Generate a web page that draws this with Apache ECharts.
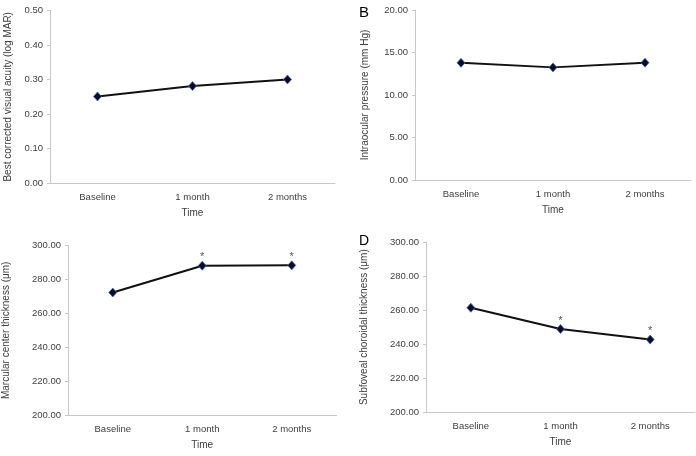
<!DOCTYPE html>
<html>
<head>
<meta charset="utf-8">
<script src="https://cdn.jsdelivr.net/npm/echarts@6/dist/echarts.min.js"></script>
<style>html,body{margin:0;padding:0;background:#fff}#c{width:696px;height:456px}</style>
</head>
<body>
<div id="c"></div>
<script>
var categories = ['Baseline', '1 month', '2 months'];
var xName = 'Time';
var bcvaValues = [0.251, 0.281, 0.300];
var iopValues = [13.78, 13.25, 13.80];
var mctValues = [272.2, 288.0, 288.2];
var sfctValues = [261.4, 248.9, 242.7];
var mctSignificant = [false, true, true];
var sfctSignificant = [false, true, true];
var yNames = ['Best corrected visual acuity (log MAR)', 'Intraocular pressure (mm Hg)', 'Marcular center thickness (\u03bcm)', 'Subfoveal choroidal thickness (\u03bcm)'];
var yMin = [0, 0, 200, 200];
var yMax = [0.5, 20, 300, 300];
var yInterval = [0.1, 5, 20, 20];
var panelLetters = ['', 'B', '', 'D'];

var FONT = '"Liberation Sans", Arial, sans-serif';
var grids = [
  {left: 50, top: 10.3, width: 285, height: 173, nameGapY: 37},
  {left: 415, top: 10, width: 276, height: 170, nameGapY: 45},
  {left: 68, top: 245.3, width: 268.5, height: 170, nameGapY: 57},
  {left: 426, top: 242, width: 269, height: 170.3, nameGapY: 57}
];
var seriesData = [bcvaValues, iopValues, mctValues, sfctValues];
var sigs = [null, null, mctSignificant, sfctSignificant];

var option = {
  animation: false,
  backgroundColor: '#fff',
  title: [
    {text: panelLetters[1], left: 354, top: 0, textStyle: {fontFamily: FONT, fontSize: 15, fontWeight: 'normal', color: '#000'}},
    {text: panelLetters[3], left: 354, top: 229, textStyle: {fontFamily: FONT, fontSize: 14, fontWeight: 'normal', color: '#000'}}
  ],
  grid: grids.map(function (g) { return {left: g.left, top: g.top, width: g.width, height: g.height}; }),
  xAxis: grids.map(function (g, i) {
    return {
      type: 'category', gridIndex: i, data: categories, boundaryGap: true,
      name: xName, nameLocation: 'middle', nameGap: 25,
      nameTextStyle: {fontFamily: FONT, fontSize: 10, color: '#404040'},
      axisLine: {lineStyle: {color: '#c8c8c8', width: 1}},
      axisTick: {show: false},
      axisLabel: {fontFamily: FONT, fontSize: 9.5, color: '#404040', margin: 9},
      splitLine: {show: false}
    };
  }),
  yAxis: grids.map(function (g, i) {
    return {
      type: 'value', gridIndex: i, min: yMin[i], max: yMax[i], interval: yInterval[i],
      name: yNames[i], nameLocation: 'middle', nameGap: g.nameGapY, nameRotate: 90,
      nameTextStyle: {fontFamily: FONT, fontSize: 10, color: '#404040'},
      axisLine: {show: true, lineStyle: {color: '#c8c8c8', width: 1}},
      axisTick: {show: true, length: 3, lineStyle: {color: '#c8c8c8'}},
      axisLabel: {fontFamily: FONT, fontSize: 9.5, color: '#404040', margin: 7,
        formatter: function (v) { return v.toFixed(2); }},
      splitLine: {show: false}
    };
  }),
  series: seriesData.map(function (vals, i) {
    return {
      type: 'line', xAxisIndex: i, yAxisIndex: i,
      data: vals.map(function (v, j) {
        var d = {value: v};
        if (sigs[i] && sigs[i][j]) {
          d.label = {show: true, position: 'top', distance: -2, formatter: '*',
            fontFamily: FONT, fontSize: 11, color: '#555'};
        }
        return d;
      }),
      symbol: 'diamond', symbolSize: [8, 9],
      itemStyle: {color: '#0b0b2a', borderColor: '#4d6ea8', borderWidth: 0.8},
      lineStyle: {color: '#111', width: 2},
      label: {show: false}
    };
  })
};
var chart = echarts.init(document.getElementById('c'), null, {renderer: 'canvas'});
chart.setOption(option);
</script>
</body>
</html>
